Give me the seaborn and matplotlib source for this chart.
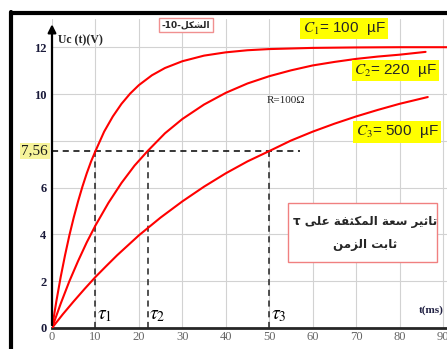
import matplotlib
matplotlib.use("Agg")
import matplotlib.pyplot as plt
import seaborn as sns
from matplotlib.lines import Line2D
from matplotlib.patches import Rectangle

# values (t in ms, Uc in V)
t_c1 = [0, 1, 2, 3, 4, 5, 6, 7, 8, 9, 10, 12, 14, 16, 18, 20, 23, 26, 30, 35, 40, 45, 50,
        60, 70, 80, 91]
u_c1 = [0, 1.14, 2.18, 3.11, 3.96, 4.72, 5.41, 6.04, 6.61, 7.12, 7.56, 8.39, 9.04, 9.58,
        10.02, 10.38, 10.80, 11.11, 11.40, 11.64, 11.78, 11.87, 11.92, 11.97, 11.99, 12.0, 12.0]
t_c2 = [0, 2, 4, 6, 8, 10, 13, 16, 19, 22, 26, 30, 35, 40, 45, 50, 55, 60, 65, 70, 75, 80, 86]
u_c2 = [0, 1.04, 2.00, 2.86, 3.66, 4.38, 5.35, 6.20, 6.94, 7.56, 8.32, 8.93, 9.55, 10.05,
        10.45, 10.76, 11.01, 11.22, 11.37, 11.50, 11.60, 11.68, 11.80]
t_c3 = [0, 2.5, 5, 7.5, 10, 12.5, 15, 20, 25, 30, 35, 40, 45, 50, 55, 60, 65, 70, 75, 80, 86.5]
u_c3 = [0, 0.59, 1.14, 1.67, 2.18, 2.65, 3.11, 3.96, 4.72, 5.41, 6.04, 6.61, 7.12, 7.56,
        8.01, 8.39, 8.73, 9.04, 9.32, 9.58, 9.87]

taus = [10, 22, 50]
tau_labels = [r'$\tau_1$', r'$\tau_2$', r'$\tau_3$']
u_tau = 7.56

x_ticks = [0, 10, 20, 30, 40, 50, 60, 70, 80, 90]
y_ticks = [0, 2, 4, 6, 8, 10, 12]
y_tick_labels = ['0', '2', '4', '6', '', '10', '12']

cap_labels = [r'$C_1$= 100  µF', r'$C_2$= 220  µF', r'$C_3$= 500  µF']

fig_title = 'الشكل'
box_line1 = 'تاثير سعة المكثفة على τ'
box_line2 = 'ثابت الزمن'

# matplotlib has no arabic shaping, so use presentation forms by hand
# (isolated, final, initial, medial)
FORMS = {
    'ا': (0xFE8D, 0xFE8E, None, None),
    'ب': (0xFE8F, 0xFE90, 0xFE91, 0xFE92),
    'ة': (0xFE93, 0xFE94, None, None),
    'ت': (0xFE95, 0xFE96, 0xFE97, 0xFE98),
    'ث': (0xFE99, 0xFE9A, 0xFE9B, 0xFE9C),
    'ر': (0xFEAD, 0xFEAE, None, None),
    'ز': (0xFEAF, 0xFEB0, None, None),
    'س': (0xFEB1, 0xFEB2, 0xFEB3, 0xFEB4),
    'ش': (0xFEB5, 0xFEB6, 0xFEB7, 0xFEB8),
    'ع': (0xFEC9, 0xFECA, 0xFECB, 0xFECC),
    'ف': (0xFED1, 0xFED2, 0xFED3, 0xFED4),
    'ك': (0xFED9, 0xFEDA, 0xFEDB, 0xFEDC),
    'ل': (0xFEDD, 0xFEDE, 0xFEDF, 0xFEE0),
    'م': (0xFEE1, 0xFEE2, 0xFEE3, 0xFEE4),
    'ن': (0xFEE5, 0xFEE6, 0xFEE7, 0xFEE8),
    'ى': (0xFEEF, 0xFEF0, None, None),
    'ي': (0xFEF1, 0xFEF2, 0xFEF3, 0xFEF4),
}


def shape(word):
    out = []
    for i, ch in enumerate(word):
        if ch not in FORMS:
            out.append(ch)
            continue
        iso, fin, ini, med = FORMS[ch]
        prev = word[i - 1] if i > 0 else ''
        nxt = word[i + 1] if i + 1 < len(word) else ''
        join_prev = prev in FORMS and FORMS[prev][2] is not None
        join_next = nxt in FORMS and ini is not None
        if join_prev and join_next:
            c = med
        elif join_prev:
            c = fin
        elif join_next:
            c = ini
        else:
            c = iso
        out.append(chr(c))
    return ''.join(out)


def rtl(text):
    return ' '.join(shape(w)[::-1] for w in text.split(' ')[::-1])


sns.set_style('white')
plt.rcParams['mathtext.fontset'] = 'stix'

fig = plt.figure(figsize=(4.47, 3.49), dpi=100)
ax = fig.add_axes([52 / 447, 21 / 349, 395 / 447, 309 / 349])

#outer frame
fig.add_artist(Line2D([11 / 447, 11 / 447], [0, 1 - 12 / 349], color='black', lw=3))
fig.add_artist(Line2D([11 / 447, 1], [1 - 13 / 349, 1 - 13 / 349], color='black', lw=3))

#curves
sns.lineplot(x=t_c1, y=u_c1, color='red', lw=1.5, ax=ax, zorder=3)
sns.lineplot(x=t_c2, y=u_c2, color='red', lw=1.5, ax=ax, zorder=3)
sns.lineplot(x=t_c3, y=u_c3, color='red', lw=1.5, ax=ax, zorder=3)

#dashed guides
ax.plot([0, 57], [u_tau, u_tau], color='black', lw=1.1, dashes=(4, 3), zorder=2)
for tau, lab in zip(taus, tau_labels):
    ax.plot([tau, tau], [0, u_tau], color='#222222', lw=1.1, dashes=(4, 3), zorder=2)
    ax.text(tau + 0.3, 0.15, lab, fontsize=14, color='black', ha='left', va='bottom')

ax.set_xlim(0, 395 / 4.344)
ax.set_ylim(0, 309 / 23.4)
ax.set_xticks(x_ticks)
ax.set_yticks(y_ticks)
ax.set_yticklabels(y_tick_labels, fontfamily='Liberation Serif', fontweight='bold',
                   fontsize=9, color='#1a1a3a')
ax.set_xticklabels([str(v) for v in x_ticks], fontfamily='Liberation Serif',
                   fontsize=9, color='#666666')
ax.tick_params(length=0, axis='y', pad=4)
ax.tick_params(length=0, axis='x', pad=2)
ax.grid(True, color='#d2d2d2', lw=0.8)
ax.set_axisbelow(True)

ax.spines['top'].set_visible(False)
ax.spines['right'].set_visible(False)
ax.spines['left'].set_visible(False)
ax.spines['bottom'].set_linewidth(2)
ax.annotate('', xy=(0, 13.1), xytext=(0, 0), annotation_clip=False,
            arrowprops=dict(arrowstyle='-|>', color='black', lw=1.6, mutation_scale=12))

#7,56 label
ax.text(-0.9, u_tau, '7,56', transform=ax.transData, ha='right', va='center',
        fontfamily='Liberation Serif', fontsize=11, color='#1a1a1a',
        bbox=dict(boxstyle='square,pad=0.1', fc='#f6f39a', ec='none'), clip_on=False)

ax.text(1.4, 12.3, 'Uc (t)(V)', fontfamily='Liberation Serif', fontweight='bold',
        fontsize=8.5, ha='left', va='center')
ax.text(84.5, 0.75, 't(ms)', fontfamily='Liberation Serif', fontweight='bold',
        fontsize=8, ha='left', va='center', color='#222244', clip_on=False)
ax.text(49.5, 9.74, 'R=100Ω', fontfamily='Liberation Serif', fontsize=8,
        ha='left', va='center')

ax.text(30.9, 12.95, '-10-' + rtl(fig_title), fontfamily='DejaVu Sans', fontweight='bold',
        fontsize=6.5, ha='center', va='center',
        bbox=dict(boxstyle='square,pad=0.3', fc='white', ec='#f09090', lw=1))

#capacitor labels
for (x, y), lab in zip([(67.2, 12.8), (79.0, 11.0), (79.4, 8.38)], cap_labels):
    ax.text(x, y, lab, fontfamily='Liberation Sans', fontsize=11, ha='center', va='center',
            zorder=5, bbox=dict(boxstyle='square,pad=0.15', fc='#ffff00', ec='none'))

#arabic box
ax.add_patch(Rectangle((54.3, 2.82), 34.3, 2.52, fc='white', ec='#f08080', lw=1, zorder=4))
ax.text(72.0, 4.53, rtl(box_line1), fontfamily='DejaVu Sans', fontweight='bold',
        fontsize=8.6, ha='center', va='center', zorder=5)
ax.text(72.0, 3.55, rtl(box_line2), fontfamily='DejaVu Sans', fontweight='bold',
        fontsize=8.6, ha='center', va='center', zorder=5)

fig.savefig('out.png', dpi=100)
